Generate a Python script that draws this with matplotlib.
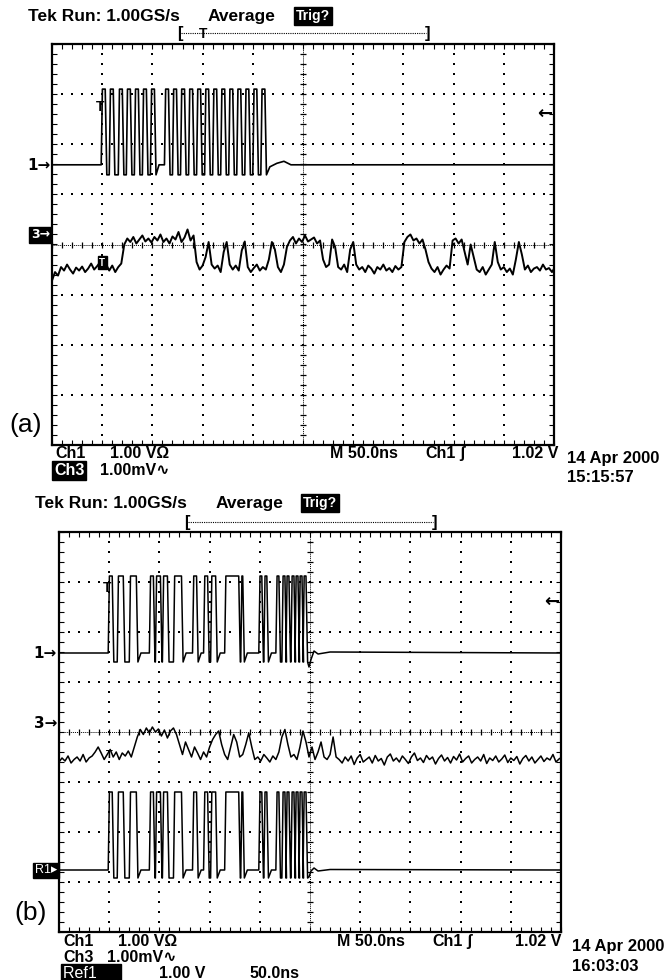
import numpy as np
import matplotlib.pyplot as plt

W, H = 670, 980
FONT = ['Liberation Sans', 'DejaVu Sans']
plt.rcParams['font.family'] = FONT

# screen: 10 div x 50 ns across, 8 div up/down; amplitudes are in divisions from centre
SAMPLE_NS = 3

# (a) Ch1 clock bursts: start / end of each high pulse (ns)
a_ch1_on = [49, 57, 66, 74, 82, 90, 98,
            112, 120, 128, 136, 144, 152, 160, 168, 176, 184, 192, 200, 208]
a_ch1_off = [53, 61, 70, 78, 86, 94, 102,
             116, 124, 132, 140, 148, 156, 164, 172, 180, 188, 196, 204, 212]
a_ch1_base, a_ch1_high, a_ch1_dip = 1.59, 3.10, 1.39
a_ch1_tail_t = [217, 224, 231, 238, 260, 500]
a_ch1_tail_v = [1.55, 1.62, 1.66, 1.59, 1.59, 1.59]

# (a) Ch3 detector output, one sample every SAMPLE_NS
a_ch3 = [-0.72, -0.55, -0.62, -0.45, -0.52, -0.40, -0.50, -0.58, -0.46, -0.52, -0.44, -0.55,
         -0.48, -0.38, -0.50, -0.43, -0.35, -0.47, -0.40, -0.52, -0.42, -0.55, -0.45, -0.38,
         0.00, 0.12, 0.05, 0.15, 0.02, 0.10, 0.18, 0.06, 0.12, 0.04, 0.15, 0.08,
         0.20, 0.05, 0.12, 0.02, 0.16, 0.10, 0.25, 0.05, 0.14, 0.30, 0.08, 0.18,
         -0.35, -0.50, -0.42, -0.25, 0.05, -0.40,
         -0.48, -0.42, -0.55, -0.15, 0.05, -0.40, -0.50, -0.42, -0.52, -0.12,
         0.06, -0.45, -0.55, -0.47, -0.40, -0.52, -0.45, -0.50, -0.30, 0.05,
         -0.10, -0.45, -0.55, -0.40, -0.05,
         0.08, 0.15, 0.02, 0.12, 0.05, 0.18, 0.06, 0.10, 0.14, 0.02, 0.08,
         -0.30, -0.45, -0.40, 0.10, -0.05, -0.45, -0.50, -0.40, -0.55, -0.10, 0.05,
         -0.40, -0.50, -0.45, -0.55, -0.42, -0.48, -0.58, -0.45,
         -0.50, -0.40, -0.52, -0.47, -0.55, -0.43, -0.50, -0.45,
         0.05, 0.15, 0.20, 0.08, 0.12, 0.02, 0.10, -0.10,
         -0.35, -0.48, -0.55, -0.45, -0.60, -0.50, -0.42, -0.48,
         0.08, 0.12, 0.02, 0.10, -0.15,
         -0.40, 0.00, -0.25,
         -0.50, -0.55, -0.45, -0.60, -0.50, -0.40,
         0.05, -0.35,
         -0.50, -0.45, -0.55, -0.48, -0.60, -0.30,
         0.05, -0.20,
         -0.50, -0.42, -0.55, -0.48, -0.45, -0.52, -0.40, -0.50, -0.47, -0.55, -0.45]

# (b) Ch1 data burst (Ref1 holds the same burst)
b_ch1_on = [49, 58, 70, 90, 96, 103, 114, 133, 144, 151, 165, 181, 199, 204,
            216, 222, 226, 231, 235, 239, 243]
b_ch1_off = [53, 64, 77, 94, 101, 108, 122, 137, 148, 156, 179, 183, 202, 207,
             219, 225, 229, 234, 238, 242, 246]
b_ch1_base, b_ch1_high, b_ch1_dip = 1.58, 3.12, 1.40
b_ch1_tail_t = [249, 251, 254, 258, 270, 500]
b_ch1_tail_v = [1.30, 1.45, 1.62, 1.56, 1.60, 1.58]
ref1_base, ref1_high, ref1_dip = -2.76, -1.20, -2.92
ref1_tail_v = [-2.90, -2.78, -2.72, -2.78, -2.75, -2.76]

# (b) Ch3
b_ch3 = [-0.60, -0.52, -0.58, -0.48, -0.62, -0.55, -0.50, -0.58, -0.45, -0.60, -0.52, -0.48, -0.40,
         -0.30, -0.42, -0.55,
         -0.45, -0.35, -0.50, -0.40, -0.55, -0.42, -0.48, -0.38, -0.50, -0.30,
         -0.10, 0.05, -0.05, 0.08, -0.02, 0.10, 0.00, 0.06, -0.08, 0.04, -0.12, 0.02, 0.08, -0.05,
         -0.25, -0.45, -0.20, -0.35, -0.50, -0.30, -0.42, -0.55, -0.40, -0.50, -0.30, -0.15,
         -0.05, 0.02, -0.25,
         -0.45, -0.55, -0.30, -0.05, -0.20, -0.50, -0.45, -0.25, -0.02, -0.30, -0.55,
         -0.50, -0.58, -0.45, -0.52, -0.60, -0.48, -0.55, -0.40,
         -0.10, 0.05, -0.25,
         -0.50, -0.45, -0.55, -0.30,
         0.02, -0.20,
         -0.50, -0.30, -0.55, -0.40, -0.20, -0.50,
         -0.55, -0.45, -0.10, -0.50,
         -0.55, -0.62, -0.50, -0.58, -0.48, -0.65, -0.52, -0.45, -0.60, -0.55,
         -0.50, -0.62, -0.47, -0.58, -0.53, -0.66, -0.50, -0.44, -0.58, -0.52,
         -0.60, -0.48, -0.55, -0.63, -0.50, -0.42, -0.57, -0.52, -0.61, -0.47,
         -0.55, -0.50, -0.64, -0.53, -0.46, -0.58, -0.51, -0.62, -0.49, -0.56,
         -0.44, -0.60, -0.53, -0.48, -0.62, -0.55, -0.50, -0.58, -0.45, -0.63,
         -0.52, -0.57, -0.48, -0.60, -0.54, -0.46, -0.61, -0.52, -0.57, -0.49,
         -0.64, -0.53, -0.47, -0.58, -0.50, -0.62, -0.55, -0.48, -0.59, -0.52,
         -0.56, -0.45, -0.60, -0.54, -0.50]


def pulse_trace(on, off, base, high, dip, tail_t, tail_v):
    t, v = [0.0], [base]
    last = None
    for s, e in zip(on, off):
        if last is not None and s - last < 5:
            t.append(s); v.append(dip)
        else:
            if last is not None:
                t.append(last + 3); v.append(base)
            t.append(s); v.append(base)
        t += [s + 1.2, e, e + 1.6]
        v += [high, high, dip]
        last = e + 1.6
    return t + list(tail_t), v + list(tail_v)


def draw_screen(ax):
    ax.set_xlim(0, 500)
    ax.set_ylim(-4, 4)
    ys = np.arange(-4, 4.001, 0.2)
    xs = np.arange(0, 500.1, 10)
    for gx in range(50, 500, 50):
        if gx != 250:
            ax.scatter(np.full(len(ys), gx), ys, s=1.5, marker='s', c='k', lw=0, zorder=1)
    for gy in range(-3, 4):
        if gy != 0:
            ax.scatter(xs, np.full(len(xs), gy), s=1.5, marker='s', c='k', lw=0, zorder=1)
    ax.axhline(0, color='k', lw=0.7, ls=(0, (1, 1)), zorder=1)
    ax.axvline(250, color='k', lw=0.7, ls=(0, (1, 1)), zorder=1)
    ax.plot(xs, np.zeros(len(xs)), ls='none', marker='|', ms=5, mew=0.9, color='k', zorder=1)
    ax.plot(np.full(len(ys), 250), ys, ls='none', marker='_', ms=5, mew=0.9, color='k', zorder=1)
    ax.set_xticks(xs)
    ax.set_yticks(ys)
    ax.tick_params(direction='in', length=3.5, width=0.8, top=True, right=True,
                   labelbottom=False, labelleft=False)
    for sp in ax.spines.values():
        sp.set_linewidth(1.6)


fig = plt.figure(figsize=(W / 100, H / 100), dpi=100)


def ftext(x, y, s, size=11.5, weight='bold', box=False, fam=FONT, **kw):
    kw.setdefault('va', 'baseline')
    if box:
        kw['bbox'] = dict(boxstyle='square,pad=0.12', fc='k', ec='k')
        kw['color'] = 'white'
    fig.text(x / W, 1 - y / H, s, fontsize=size, fontweight=weight, family=fam, **kw)


def fline(x0, x1, y, **kw):
    fig.add_artist(plt.Line2D([x0 / W, x1 / W], [1 - y / H, 1 - y / H],
                              transform=fig.transFigure, color='k', **kw))


ax_a = fig.add_axes([52 / W, 1 - 445 / H, 502 / W, 401 / H])
ax_b = fig.add_axes([59 / W, 1 - 932 / H, 502 / W, 400 / H])
draw_screen(ax_a)
draw_screen(ax_b)

# traces, panel (a)
t, v = pulse_trace(a_ch1_on, a_ch1_off, a_ch1_base, a_ch1_high, a_ch1_dip,
                   a_ch1_tail_t, a_ch1_tail_v)
ax_a.plot(t, v, color='k', lw=1.2, zorder=3)
ax_a.plot(np.arange(len(a_ch3)) * SAMPLE_NS, a_ch3, color='k', lw=1.4, zorder=3)
ax_a.text(48, 2.74, 'T', ha='center', va='center', fontsize=10, fontweight='bold')
ax_a.text(50, -0.36, 'T', ha='center', va='center', fontsize=7, fontweight='bold', color='white',
          bbox=dict(boxstyle='square,pad=0.15', fc='k', ec='k'), zorder=4)

# traces, panel (b)
t, v = pulse_trace(b_ch1_on, b_ch1_off, b_ch1_base, b_ch1_high, b_ch1_dip,
                   b_ch1_tail_t, b_ch1_tail_v)
ax_b.plot(t, v, color='k', lw=1.1, zorder=3)
t, v = pulse_trace(b_ch1_on, b_ch1_off, ref1_base, ref1_high, ref1_dip,
                   b_ch1_tail_t, ref1_tail_v)
ax_b.plot(t, v, color='k', lw=1.1, zorder=3)
ax_b.plot(np.arange(len(b_ch3)) * SAMPLE_NS, b_ch3, color='k', lw=1.1, zorder=3)
ax_b.text(48, 2.88, 'T', ha='center', va='center', fontsize=10, fontweight='bold')
ax_b.text(50, -0.45, 'T', ha='center', va='center', fontsize=8, fontweight='bold')

# header, panel (a)
ftext(28, 21, 'Tek Run: 1.00GS/s', size=12.5)
ftext(208, 21, 'Average', size=12.5)
ftext(296, 20, 'Trig?', size=10, box=True)
ftext(177, 38, '[', size=12)
ftext(430, 38, ']', size=12, ha='right')
fline(181, 426, 33, lw=0.8, ls=(0, (1, 1)))
ftext(203, 38, 'T', size=10, ha='center')

# header, panel (b)
ftext(35, 508, 'Tek Run: 1.00GS/s', size=12.5)
ftext(216, 508, 'Average', size=12.5)
ftext(303, 507, 'Trig?', size=10, box=True)
ftext(184, 527, '[', size=12)
ftext(437, 527, ']', size=12, ha='right')
fline(188, 433, 522, lw=0.8, ls=(0, (1, 1)))

# channel markers
ARROW = ['DejaVu Sans']
ftext(51, 165, '1\u2192', size=11, ha='right', va='center', fam=ARROW)
ftext(50, 235, '3\u2192', size=9, ha='right', va='center', box=True, fam=ARROW)
ftext(552, 114, '\u2190', size=13, ha='right', va='center', fam=ARROW)
ftext(57, 653, '1\u2192', size=11, ha='right', va='center', fam=ARROW)
ftext(57, 723, '3\u2192', size=11, ha='right', va='center', fam=ARROW)
ftext(57, 870, 'R1\u25B8', size=9, ha='right', va='center', weight='normal', box=True)
ftext(559, 602, '\u2190', size=13, ha='right', va='center', fam=ARROW)

# panel letters
ftext(9, 425, '(a)', size=19, weight='normal', va='center')
ftext(14, 913, '(b)', size=19, weight='normal', va='center')

# footer, panel (a)
ftext(55, 458, 'Ch1')
ftext(110, 458, '1.00 V\u03A9')
ftext(54, 475, 'Ch3', box=True)
ftext(100, 475, '1.00mV\u223F')
ftext(330, 458, 'M 50.0ns')
ftext(425, 458, 'Ch1')
ftext(459, 458, '\u0283')
ftext(558, 458, '1.02 V', ha='right')
ftext(567, 463, '14 Apr 2000', size=12)
ftext(567, 482, '15:15:57', size=12)

# footer, panel (b)
ftext(63, 946, 'Ch1')
ftext(118, 946, '1.00 V\u03A9')
ftext(63, 962, 'Ch3')
ftext(107, 962, '1.00mV\u223F')
ftext(63, 978, 'Ref1     ', weight='normal', box=True)
ftext(159, 978, '1.00 V')
ftext(249, 978, '50.0ns')
ftext(337, 946, 'M 50.0ns')
ftext(432, 946, 'Ch1')
ftext(466, 946, '\u0283')
ftext(561, 946, '1.02 V', ha='right')
ftext(572, 951, '14 Apr 2000', size=12)
ftext(572, 971, '16:03:03', size=12)

fig.savefig('out.png', dpi=100, facecolor='white')
